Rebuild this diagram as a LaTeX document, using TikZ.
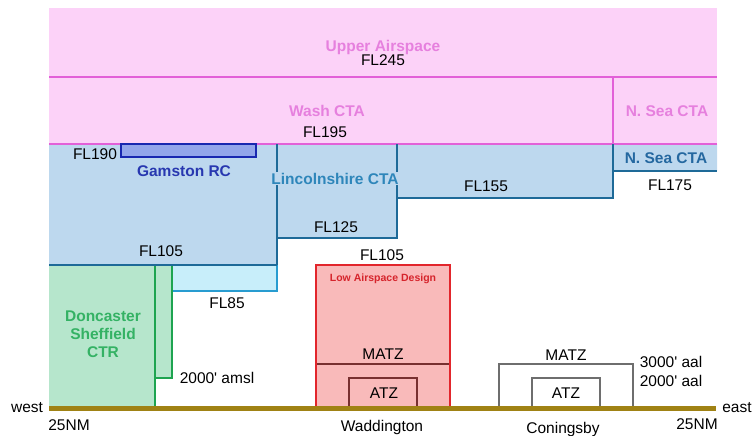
\documentclass[tikz,border=0pt]{standalone}
\usepackage{fontspec}
\setmainfont{Liberation Sans}
\usetikzlibrary{positioning}
\definecolor{pinkfill}{RGB}{252,210,248}
\definecolor{pinkline}{RGB}{226,96,216}
\definecolor{pinktext}{RGB}{230,128,222}
\definecolor{bluefill}{RGB}{189,216,238}
\definecolor{blueline}{RGB}{30,106,152}
\definecolor{lincstext}{RGB}{46,134,186}
\definecolor{nseatext}{RGB}{36,104,160}
\definecolor{gamfill}{RGB}{146,166,234}
\definecolor{gamline}{RGB}{24,40,176}
\definecolor{gamtext}{RGB}{40,56,176}
\definecolor{cyanfill}{RGB}{200,238,250}
\definecolor{cyanline}{RGB}{40,156,208}
\definecolor{greenfill}{RGB}{182,230,204}
\definecolor{greenline}{RGB}{30,164,80}
\definecolor{greentext}{RGB}{52,178,100}
\definecolor{redfill}{RGB}{249,186,186}
\definecolor{redline}{RGB}{226,38,44}
\definecolor{redtext}{RGB}{214,36,44}
\definecolor{matzline}{RGB}{120,48,48}
\definecolor{boxgray}{RGB}{110,110,110}
\definecolor{ground}{RGB}{160,130,20}
\begin{document}
\begin{tikzpicture}[x=1pt,y=-1pt,
  fl/.style={font=\fontsize{15.5}{18}\selectfont,inner sep=0pt,anchor=base},
  zone/.style={font=\bfseries\fontsize{15.5}{18}\selectfont,inner sep=0pt,anchor=base},
  pinkedge/.style={pinkline,line width=2pt},
  blueedge/.style={blueline,line width=2.5pt},
  greenedge/.style={greenline,line width=2.5pt}]
\useasboundingbox (0,0) rectangle (753,436);
% upper and Wash CTA
\fill[pinkfill] (49,8) rectangle (717,144);
% Lincolnshire / N. Sea CTA
\fill[bluefill] (49,144) -- (717,144) -- (717,171) -- (613,171) -- (613,198)
  -- (397,198) -- (397,238) -- (277,238) -- (277,265) -- (49,265) -- cycle;
\fill[cyanfill] (172,265) rectangle (277,291);
\fill[greenfill] (49,265) -- (172,265) -- (172,378) -- (155,378) -- (155,406) -- (49,406) -- cycle;
\draw[pinkedge] (49,77) -- (717,77);
\draw[pinkedge] (49,144) -- (717,144);
\draw[pinkedge] (613,77) -- (613,144);
\draw[blueedge] (613,144) -- (613,198) -- (397,198);
\draw[blueedge] (613,171) -- (717,171);
\draw[blueedge] (397,144) -- (397,238) -- (277,238);
\draw[blueedge] (277,144) -- (277,265);
\draw[cyanline,line width=2.5pt] (277,265) -- (277,291) -- (172,291);
\draw[greenedge] (155,406) -- (155,265);
\draw[greenedge] (172,265) -- (172,378) -- (155,378);
\draw[blueedge] (49,265) -- (277,265);
\draw[gamline,fill=gamfill,line width=2.5pt] (121,144) rectangle (256,157);
% Waddington
\draw[redline,fill=redfill,line width=2.5pt] (316,406) -- (316,265) -- (450,265) -- (450,406);
\draw[matzline,line width=1.5pt] (317,364) -- (449,364);
\draw[matzline,line width=1.5pt] (349,406) -- (349,378) -- (417,378) -- (417,406);
% Coningsby
\draw[boxgray,line width=1.5pt] (499,406) -- (499,364) -- (633,364) -- (633,406);
\draw[boxgray,line width=1.5pt] (532,406) -- (532,378) -- (600,378) -- (600,406);
% ground
\draw[ground,line width=5pt] (49,408.5) -- (716,408.5);
% labels
\node[zone,pinktext] (upper) at (383,52) {Upper Airspace};
\node[fl] (fl245) at (383,66) {FL245};
\node[zone,pinktext] (wash) at (327,117) {Wash CTA};
\node[fl] (fl195) at (325,138) {FL195};
\node[zone,pinktext] (nseaup) at (667,117) {N. Sea CTA};
\node[zone,nseatext] (nsealow) at (666,163) {N. Sea CTA};
\node[fl] (fl175) at (670,190) {FL175};
\node[fl] (fl155) at (486,191) {FL155};
\node[zone,lincstext,fill=bluefill,inner sep=1pt] (lincs) at (335,184) {Lincolnshire CTA};
\node[fl] (fl125) at (336,232) {FL125};
\node[fl] (fl190) at (95,159) {FL190};
\node[zone,gamtext] (gamston) at (184,176) {Gamston RC};
\node[fl] (fl105w) at (161,256.5) {FL105};
\node[fl] (fl85) at (227,308) {FL85};
\node[zone,greentext,align=center,anchor=north] (doncaster) at (103,311)
  {Doncaster\\Sheffield\\CTR};
\node[fl] (amsl) at (217,383) {2000\textquotesingle{} amsl};
\node[fl] (fl105m) at (382,260) {FL105};
\node[zone,redtext,font=\bfseries\fontsize{10.5}{12}\selectfont] (lowdesign) at (383,281) {Low Airspace Design};
\node[fl] (matzw) at (383,359) {MATZ};
\node[fl] (atzw) at (384,398) {ATZ};
\node[fl] (matzc) at (566,360) {MATZ};
\node[fl] (atzc) at (566,398) {ATZ};
\node[fl] (aal3) at (671,367) {3000\textquotesingle{} aal};
\node[fl] (aal2) at (671,386.5) {2000\textquotesingle{} aal};
\node[fl] (west) at (27,412) {west};
\node[fl] (east) at (737,412) {east};
\node[fl] (nmw) at (69,430) {25NM};
\node[fl] (nme) at (697,429) {25NM};
\node[fl] (waddington) at (382,431) {Waddington};
\node[fl] (coningsby) at (563,433) {Coningsby};
\end{tikzpicture}
\end{document}
